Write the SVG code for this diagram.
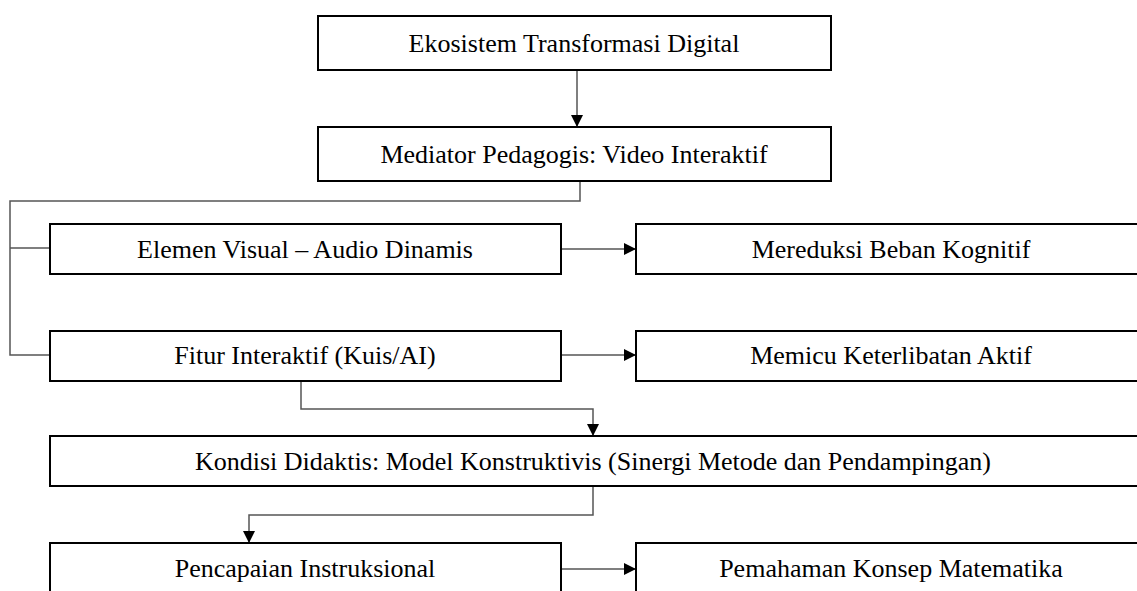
<svg xmlns="http://www.w3.org/2000/svg" width="1137" height="591" viewBox="0 0 1137 591">
<style>
.box{fill:#fff;stroke:#000;stroke-width:2}
.t{font-family:"Liberation Serif","Times New Roman",serif;font-size:26px;fill:#000;text-anchor:middle}
.c{fill:none;stroke:#555;stroke-width:1.5}
</style>
<defs>
<marker id="ah" viewBox="0 0 10 10" refX="10" refY="5" markerWidth="12" markerHeight="12" markerUnits="userSpaceOnUse" orient="auto">
<path d="M0,0 L10,5 L0,10 Z" fill="#000"/>
</marker>
</defs>
<rect width="1137" height="591" fill="#fff"/>
<g id="connectors">
<path class="c" d="M577,70 V127" marker-end="url(#ah)"/>
<path class="c" d="M580,181 V201 H10 V355 H50"/>
<path class="c" d="M10,248 H50"/>
<path class="c" d="M561,249 H636" marker-end="url(#ah)"/>
<path class="c" d="M561,355 H636" marker-end="url(#ah)"/>
<path class="c" d="M301,381 V409 H593 V436" marker-end="url(#ah)"/>
<path class="c" d="M593,486 V515 H249 V543" marker-end="url(#ah)"/>
<path class="c" d="M561,569 H636" marker-end="url(#ah)"/>
</g>
<g id="n1"><rect class="box" x="318" y="16" width="513" height="54"/><text class="t" x="574" y="52">Ekosistem Transformasi Digital</text></g>
<g id="n2"><rect class="box" x="318" y="127" width="513" height="54"/><text class="t" x="574" y="163">Mediator Pedagogis: Video Interaktif</text></g>
<g id="n3"><rect class="box" x="50" y="224" width="511" height="50"/><text class="t" x="305" y="258">Elemen Visual – Audio Dinamis</text></g>
<g id="n4"><rect class="box" x="636" y="224" width="510" height="50"/><text class="t" x="891" y="258">Mereduksi Beban Kognitif</text></g>
<g id="n5"><rect class="box" x="50" y="331" width="511" height="50"/><text class="t" x="305" y="364">Fitur Interaktif (Kuis/AI)</text></g>
<g id="n6"><rect class="box" x="636" y="331" width="510" height="50"/><text class="t" x="891" y="364">Memicu Keterlibatan Aktif</text></g>
<g id="n7"><rect class="box" x="50" y="436" width="1096" height="50"/><text class="t" x="593" y="470">Kondisi Didaktis: Model Konstruktivis (Sinergi Metode dan Pendampingan)</text></g>
<g id="n8"><rect class="box" x="50" y="543" width="511" height="60"/><text class="t" x="305" y="577">Pencapaian Instruksional</text></g>
<g id="n9"><rect class="box" x="636" y="543" width="510" height="60"/><text class="t" x="891" y="577">Pemahaman Konsep Matematika</text></g>
</svg>
